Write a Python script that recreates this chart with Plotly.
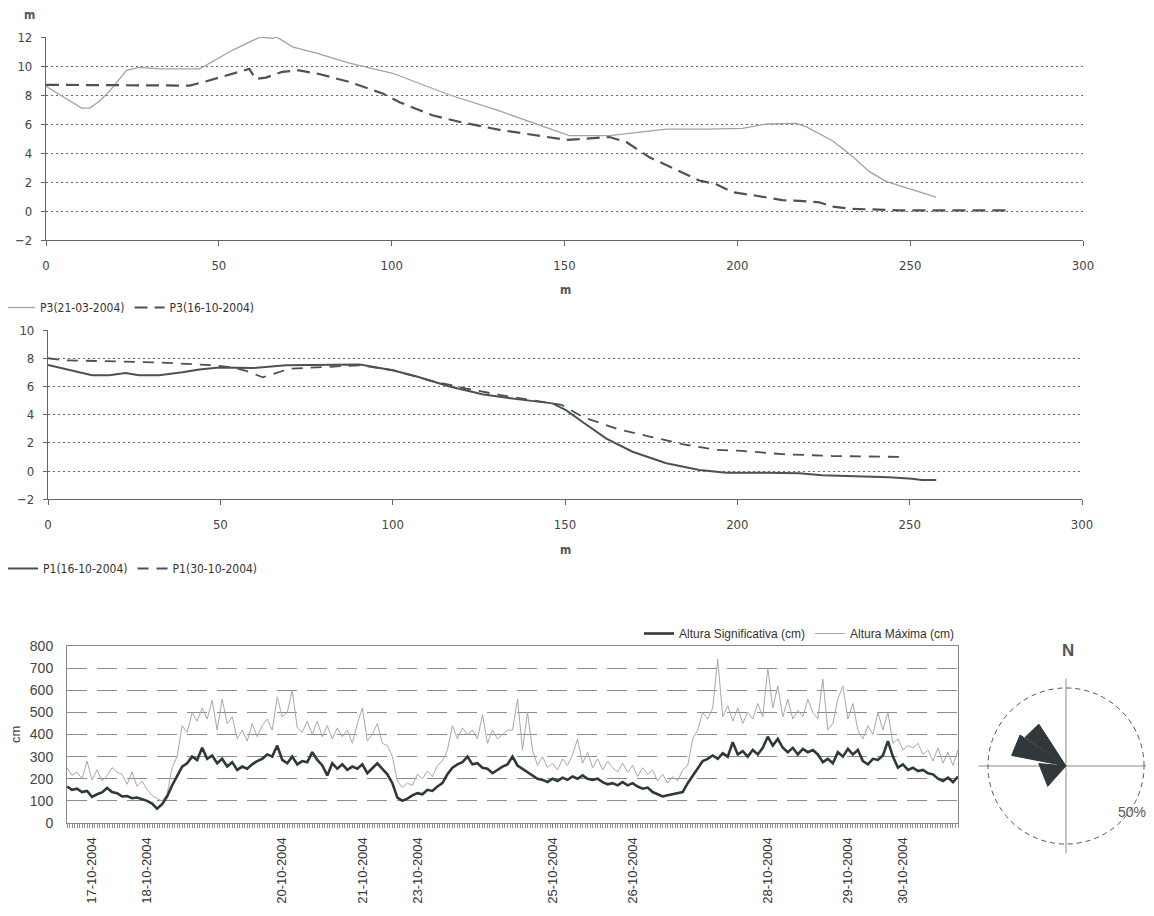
import plotly.graph_objects as go

# the page adds an 8px body margin, so the figure is drawn 8px smaller and shifted
OFF = 8
W, H = 1154 - OFF, 916 - OFF

# ---------------- Top profile chart (P3) ----------------
p3_mar_x = [0, 6, 10.3, 12.7, 15.6, 18.5, 23.3, 27, 33, 44.5, 47.4, 54, 62, 65.7, 66.7, 71.5, 78, 87.8, 100.3, 107,
            116.8, 131.2, 141.9, 151.4, 163, 169.7, 179.5, 191, 201.4, 208.4, 217, 220, 227.5, 233.2, 238, 243, 250.6, 257.5]
p3_mar_y = [8.6, 7.7, 7.1, 7.1, 7.6, 8.3, 9.7, 9.9, 9.8, 9.8, 10.2, 11.1, 12.0, 11.9, 12.0, 11.3, 10.9, 10.2, 9.5, 8.9,
            8.0, 6.9, 6.0, 5.2, 5.2, 5.4, 5.65, 5.65, 5.7, 6.0, 6.05, 5.8, 4.85, 3.8, 2.75, 2.05, 1.5, 0.95]
p3_oct_x = [0, 41.6, 46.4, 54, 58.8, 60.7, 63.6, 68.4, 73.2, 79, 87.8, 97.4, 102.3, 111.8, 120.5, 131.2, 141.9, 150.6,
            163, 167.9, 174.6, 184, 189, 193.9, 198.6, 205.5, 213, 218, 223.7, 227.5, 233.2, 246.8, 279.5]
p3_oct_y = [8.7, 8.65, 8.95, 9.45, 9.8, 9.1, 9.2, 9.6, 9.7, 9.45, 8.9, 8.1, 7.5, 6.6, 6.1, 5.6, 5.2, 4.9,
            5.1, 4.75, 3.7, 2.65, 2.1, 1.85, 1.3, 1.05, 0.75, 0.7, 0.6, 0.3, 0.15, 0.05, 0.05]

# ---------------- Middle profile chart (P1) ----------------
p1_16_x = [0, 5, 12.8, 17.7, 22.5, 26.4, 32.2, 39, 43.9, 49.7, 59.4, 69, 82.7, 90.5, 94.2, 100, 107, 116.5, 126, 136,
           146.4, 150.4, 155, 162, 169.6, 179.4, 189, 196.8, 208.4, 218, 224.6, 234.5, 244, 250.7, 253.6, 257.7]
p1_16_y = [7.53, 7.25, 6.8, 6.8, 6.95, 6.8, 6.8, 7.0, 7.2, 7.35, 7.3, 7.5, 7.55, 7.55, 7.4, 7.15, 6.7, 6.0, 5.45, 5.1,
           4.8, 4.3, 3.5, 2.3, 1.37, 0.55, 0.07, -0.12, -0.12, -0.15, -0.3, -0.36, -0.43, -0.55, -0.64, -0.64]
p1_30_x = [0, 5, 14.8, 32.2, 40, 47.8, 53.6, 57.5, 62.3, 66.2, 70, 77.9, 90.5, 100, 110.4, 121.4, 131, 141, 149, 155,
           165, 174.6, 184.3, 194, 201.4, 213, 227.5, 249]
p1_30_y = [8.0, 7.85, 7.8, 7.7, 7.6, 7.5, 7.35, 7.1, 6.65, 6.95, 7.25, 7.35, 7.5, 7.15, 6.45, 5.85, 5.4, 5.0, 4.7, 3.85,
           3.0, 2.45, 1.9, 1.5, 1.43, 1.2, 1.07, 1.0]

# ---------------- Wave heights (cm), one value per sample ----------------
hs_cm = [165, 150, 155, 140, 145, 118, 130, 138, 158, 140,
         135, 120, 122, 112, 115, 108, 100, 88, 65, 85,
         120, 170, 215, 255, 270, 300, 285, 340, 290, 305,
         270, 290, 255, 275, 240, 255, 245, 265, 280, 290,
         310, 300, 350, 285, 270, 300, 265, 280, 275, 320,
         285, 260, 215, 270, 245, 265, 240, 255, 245, 265,
         225, 250, 270, 245, 220, 180, 115, 100, 110, 125,
         135, 130, 150, 145, 165, 180, 220, 250, 265, 275,
         300, 265, 270, 250, 245, 225, 240, 255, 265, 300,
         260, 245, 230, 215, 200, 195, 185, 200, 190, 205,
         195, 210, 200, 215, 200, 195, 200, 185, 175, 180,
         170, 185, 170, 180, 165, 155, 160, 140, 130, 120,
         125, 130, 135, 140, 180, 215, 245, 280, 290, 305,
         290, 315, 300, 365, 310, 325, 300, 330, 310, 340,
         390, 350, 380, 340, 320, 340, 310, 335, 320, 330,
         310, 275, 290, 270, 320, 300, 335, 310, 330, 280,
         265, 290, 285, 305, 370, 300, 250, 265, 240, 250,
         235, 240, 225, 220, 200, 190, 205, 185, 210]
hmax_cm = [250, 215, 230, 200, 280, 195, 240, 190, 215, 250,
           230, 220, 175, 230, 165, 190, 150, 125, 110, 100,
           130, 250, 300, 440, 410, 500, 460, 520, 470, 555,
           420, 560, 450, 480, 380, 420, 370, 450, 390, 440,
           470, 420, 570, 480, 500, 600, 430, 410, 460, 400,
           460, 390, 440, 380, 430, 390, 420, 360, 450, 520,
           370, 400, 450, 360, 350, 300, 190, 160, 180, 170,
           220, 200, 235, 210, 260, 280, 330, 440, 380, 430,
           400, 420, 380, 490, 360, 420, 380, 400, 420, 420,
           560, 330, 500, 330, 260, 300, 250, 270, 240, 290,
           260, 310, 380, 270, 320, 250, 290, 240, 280, 250,
           230, 270, 230, 260, 210, 250, 220, 240, 190, 220,
           180, 210, 190, 240, 260, 380, 420, 500, 470, 520,
           740, 480, 530, 460, 520, 450, 500, 470, 540, 480,
           700, 520, 620, 480, 560, 470, 510, 480, 560, 500,
           470, 650, 420, 450, 560, 620, 470, 540, 420, 380,
           440, 400, 500, 420, 500, 360, 380, 330, 350, 340,
           360, 310, 330, 280, 340, 270, 320, 260, 330]
date_tick_idx = [5, 16, 43, 59, 70, 97, 113, 140, 156, 167]
date_tick_text = ['17-10-2004', '18-10-2004', '20-10-2004', '21-10-2004', '23-10-2004',
                  '25-10-2004', '26-10-2004', '28-10-2004', '29-10-2004', '30-10-2004']

# ---------------- Wind rose (% of time per direction sector) ----------------
rose_from_deg = [222, 281, 305]
rose_to_deg = [275, 304, 327]
rose_pct = [17.5, 35.5, 32.0]

sample_idx = list(range(len(hs_cm)))


def fx(px):
    return (px - OFF) / W


def fy(py):
    return 1 - (py - OFF) / H


def px_x(a, b):
    return [fx(a), fx(b)]


def px_y(top, bottom):
    return [fy(bottom), fy(top)]


narrow = "Liberation Sans Narrow, DejaVu Sans Condensed, Liberation Sans, Arial"
sans = "Liberation Sans, Arial, sans-serif"

fig = go.Figure()

fig.add_trace(go.Scatter(x=p3_mar_x, y=p3_mar_y, mode='lines', name='P3(21-03-2004)',
                         line=dict(color='#a2a2a2', width=1.3), xaxis='x', yaxis='y', legend='legend'))
fig.add_trace(go.Scatter(x=p3_oct_x, y=p3_oct_y, mode='lines', name='P3(16-10-2004)',
                         line=dict(color='#4e5256', width=2.2, dash='13px,7px'), xaxis='x', yaxis='y', legend='legend'))

fig.add_trace(go.Scatter(x=p1_16_x, y=p1_16_y, mode='lines', name='P1(16-10-2004)',
                         line=dict(color='#4a5257', width=2), xaxis='x2', yaxis='y2', legend='legend2'))
fig.add_trace(go.Scatter(x=p1_30_x, y=p1_30_y, mode='lines', name='P1(30-10-2004)',
                         line=dict(color='#4a5257', width=1.8, dash='11px,8px'), xaxis='x2', yaxis='y2', legend='legend2'))

fig.add_trace(go.Scatter(x=sample_idx, y=hmax_cm, mode='lines', name='Altura Máxima (cm)',
                         line=dict(color='#a8a8a8', width=1), xaxis='x3', yaxis='y3', legend='legend3'))
fig.add_trace(go.Scatter(x=sample_idx, y=hs_cm, mode='lines', name='Altura Significativa (cm)',
                         line=dict(color='#2e393e', width=2.6), xaxis='x3', yaxis='y3', legend='legend3'))

for a0, a1, p in zip(rose_from_deg, rose_to_deg, rose_pct):
    fig.add_trace(go.Scatterpolar(r=[0, p, p, 0], theta=[a0, a0, a1, a1], mode='lines', fill='toself',
                                  fillcolor='#30383c', line=dict(color='#30383c', width=1),
                                  showlegend=False, subplot='polar'))

tick_font = dict(family=narrow, size=13, color='#444')
grid_common = dict(showgrid=True, gridcolor='#6a6a6a', griddash='2px,3px', gridwidth=1)


def profile_axes(xdom, ydom, yr):
    xa = dict(domain=xdom, range=[0, 300], tickvals=[0, 50, 100, 150, 200, 250, 300], showgrid=False,
              zeroline=False, showline=True, linecolor='#666', linewidth=1.2, ticks='outside', ticklen=5,
              tickcolor='#666', tickfont=tick_font, ticklabelstandoff=8, automargin=False)
    ya = dict(domain=ydom, range=yr, dtick=2, zeroline=False, showline=True, linecolor='#666',
              linewidth=1.2, ticks='outside', ticklen=4, tickcolor='#666', tickfont=tick_font,
              ticklabelstandoff=6, automargin=False, **grid_common)
    return xa, ya


xa1, ya1 = profile_axes(px_x(46, 1083), px_y(37, 240), [-2, 12])
xa2, ya2 = profile_axes(px_x(48, 1082), px_y(330, 499.3), [-2, 10])
xa1['anchor'] = 'y'
ya1['anchor'] = 'x'
xa2['anchor'] = 'y2'
ya2['anchor'] = 'x2'

xa3 = dict(domain=px_x(67, 958), range=[0, len(hs_cm) - 1], anchor='y3', tickvals=date_tick_idx,
           ticktext=date_tick_text, tickangle=-90, showgrid=False, zeroline=False, showline=True,
           linecolor='#888', linewidth=1, mirror=True, ticks='outside', ticklen=4, tickcolor='#777',
           tickfont=dict(family=sans, size=13, color='#333'), ticklabelstandoff=4, automargin=False,
           minor=dict(ticks='outside', dtick=0.5, tick0=0, ticklen=4, tickcolor='#8c8c8c', showgrid=False))
ya3 = dict(domain=px_y(646, 823), range=[0, 800], dtick=100, anchor='x3', zeroline=False, showline=True,
           linecolor='#888', linewidth=1, mirror=True, ticks='', tickfont=dict(family=sans, size=14, color='#444'),
           ticklabelstandoff=10, showgrid=True, gridcolor='#8a8a8a', griddash='20px,10px', gridwidth=1,
           automargin=False)


def label(text, x, y, size, family, color='#555', angle=0):
    return dict(text=text, x=fx(x), y=fy(y), xref='paper', yref='paper', showarrow=False,
                xanchor='center', yanchor='middle', textangle=angle,
                font=dict(family=family, size=size, color=color))


cx, cy, rad = 1066, 766, 87.4
fig.update_layout(
    width=W, height=H, margin=dict(l=0, r=0, t=0, b=0, autoexpand=False),
    paper_bgcolor='white', plot_bgcolor='white',
    xaxis=xa1, yaxis=ya1, xaxis2=xa2, yaxis2=ya2, xaxis3=xa3, yaxis3=ya3,
    polar=dict(domain=dict(x=px_x(cx - rad, min(cx + rad, 1154)), y=px_y(cy - rad, cy + rad)), bgcolor='white',
               radialaxis=dict(range=[0, 56], tickvals=[50], showticklabels=False, ticks='', showline=False,
                               gridcolor='#555', griddash='5px,4px', gridwidth=1.2),
               angularaxis=dict(rotation=90, direction='clockwise', tickvals=[0, 90, 180, 270],
                                showticklabels=False, ticks='', showline=False, gridcolor='#8a8a8a',
                                gridwidth=1.2)),
    legend=dict(x=fx(0), xanchor='left', y=fy(293), yanchor='top', orientation='h',
                font=dict(family=narrow, size=12, color='#333'), bgcolor='rgba(0,0,0,0)', itemwidth=30),
    legend2=dict(x=fx(3), xanchor='left', y=fy(554), yanchor='top', orientation='h',
                 font=dict(family=narrow, size=12, color='#333'), bgcolor='rgba(0,0,0,0)', itemwidth=30),
    legend3=dict(x=fx(960), xanchor='right', y=fy(619), yanchor='top', orientation='h',
                 traceorder='reversed', font=dict(family=sans, size=12, color='#333'),
                 bgcolor='rgba(0,0,0,0)', itemwidth=30),
    annotations=[
        label('<b>m</b>', 29, 15, 12, narrow),
        label('<b>m</b>', 565, 290, 12, narrow),
        label('<b>m</b>', 565, 550, 12, narrow),
        label('cm', 15, 735, 13, sans, '#444', -90),
        label('<b>N</b>', 1068, 650, 17, sans),
        label('50%', 1132, 812, 14, sans),
    ],
)

fig.write_html("out.html")
